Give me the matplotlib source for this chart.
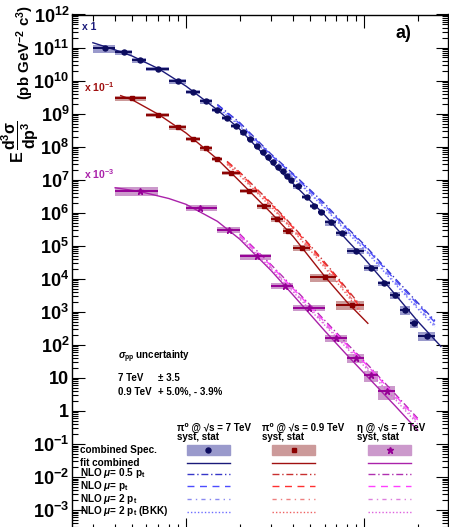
import numpy as np
import matplotlib.pyplot as plt
from matplotlib.patches import Rectangle
from matplotlib.lines import Line2D
from matplotlib.ticker import LogLocator, FuncFormatter, NullFormatter, FixedLocator

plt.rcParams['font.family'] = ['Liberation Sans', 'DejaVu Sans']
plt.rcParams['font.weight'] = 'bold'
plt.rcParams['mathtext.fontset'] = 'custom'
plt.rcParams['mathtext.rm'] = 'Liberation Sans:bold'
plt.rcParams['mathtext.bf'] = 'Liberation Sans:bold'
plt.rcParams['mathtext.it'] = 'Liberation Sans:bold:italic'

# ---- pi0 @ 7 TeV (x1) ----
pi7_lo = [0.3, 0.4, 0.5, 0.6, 0.8, 1.0, 1.2, 1.4, 1.6, 1.8, 2.0, 2.2, 2.4, 2.6, 2.8, 3.0, 3.2,
          3.4, 3.6, 3.8, 4.0, 4.5, 5.0, 5.5, 6.0, 7.0, 8.0, 10, 12, 14, 16, 18, 20]
pi7_hi = [0.4, 0.5, 0.6, 0.8, 1.0, 1.2, 1.4, 1.6, 1.8, 2.0, 2.2, 2.4, 2.6, 2.8, 3.0, 3.2, 3.4,
          3.6, 3.8, 4.0, 4.5, 5.0, 5.5, 6.0, 7.0, 8.0, 10, 12, 14, 16, 18, 20, 25]
pi7_pt = [0.35, 0.45, 0.55, 0.7, 0.9, 1.1, 1.3, 1.5, 1.7, 1.9, 2.1, 2.3, 2.5, 2.7, 2.9, 3.1, 3.3,
          3.5, 3.7, 3.9, 4.25, 4.75, 5.25, 5.75, 6.5, 7.5, 9, 11, 13, 15, 17, 19, 22.5]
pi7_y = [9.4e10, 7.2e10, 4.1e10, 2.26e10, 9.5e9, 4.6e9, 2.36e9, 1.3e9, 7.4e8, 4.3e8, 2.7e8,
         1.7e8, 1.07e8, 7.0e7, 4.8e7, 3.4e7, 2.5e7, 1.79e7, 1.32e7, 9.5e6, 6.3e6, 3.0e6, 1.63e6,
         1.05e6, 5.1e5, 2.4e5, 7.0e4, 2.2e4, 7.4e3, 3.3e3, 1.15e3, 4.7e2, 1.9e2]
pi7_sys = [0.25, 0.2, 0.15, 0.15, 0.15, 0.15, 0.15, 0.15, 0.15, 0.15, 0.15, 0.15, 0.15, 0.15,
           0.15, 0.15, 0.15, 0.15, 0.15, 0.15, 0.15, 0.15, 0.15, 0.15, 0.2, 0.2, 0.2, 0.2, 0.2,
           0.25, 0.3, 0.3, 0.3]
pi7_fit_x = [0.3, 0.4, 0.5, 0.7, 1.0, 1.5, 2.0, 3.0, 4.0, 6.0, 8.0, 10, 15, 20, 27]
pi7_fit_y = [1.4e11, 8.5e10, 5.5e10, 2.3e10, 6.8e9, 1.3e9, 3.4e8, 3.4e7, 7.6e6, 8.6e5,
             1.5e5, 4.2e4, 3.3e3, 5.2e2, 9.0e1]
pi7_nlo_x = [1.5, 2, 3, 4, 6, 8, 10, 15, 20, 25]
pi7_nlo_05 = [1.9e9, 5.4e8, 6.0e7, 1.5e7, 1.9e6, 3.6e5, 1.1e5, 1.0e4, 1.9e3, 5.4e2]
pi7_nlo_1 = [1.8e9, 5.0e8, 5.6e7, 1.4e7, 1.7e6, 3.3e5, 1.0e5, 9.0e3, 1.7e3, 4.8e2]
pi7_nlo_2 = [1.6e9, 4.6e8, 5.0e7, 1.25e7, 1.5e6, 2.9e5, 8.6e4, 7.6e3, 1.4e3, 4.0e2]
pi7_nlo_bkk = [1.5e9, 4.3e8, 4.7e7, 1.15e7, 1.4e6, 2.6e5, 7.8e4, 6.8e3, 1.25e3, 3.5e2]

# ---- pi0 @ 0.9 TeV (x1e-1) ----
pi09_lo = [0.4, 0.6, 0.8, 1.0, 1.2, 1.4, 1.6, 2.0, 2.5, 3.0, 3.5, 4.0, 5.0, 7.0]
pi09_hi = [0.6, 0.8, 1.0, 1.2, 1.4, 1.6, 2.0, 2.5, 3.0, 3.5, 4.0, 5.0, 7.0, 10.0]
pi09_pt = [0.5, 0.7, 0.9, 1.1, 1.3, 1.5, 1.8, 2.25, 2.75, 3.25, 3.75, 4.5, 6.0, 8.5]
pi09_y = [2.9e9, 9.1e8, 3.85e8, 1.71e8, 8.9e7, 4.2e7, 1.6e7, 4.7e6, 1.6e6, 6.5e5, 2.9e5,
          8.5e4, 1.1e4, 1.6e3]
pi09_sys = [0.15, 0.15, 0.15, 0.15, 0.15, 0.15, 0.15, 0.15, 0.18, 0.2, 0.2, 0.2, 0.25, 0.3]
pi09_fit_x = [0.43, 0.5, 0.7, 1.0, 1.5, 2.0, 3.0, 4.0, 6.0, 8.0, 10.5]
pi09_fit_y = [3.5e9, 2.6e9, 9.5e8, 2.6e8, 4.2e7, 9.0e6, 1.0e6, 1.9e5, 1.2e4, 2.0e3, 4.5e2]
pi09_nlo_x = [1.7, 2, 3, 4, 5, 6, 7, 8, 9.5]
pi09_nlo_05 = [3.6e7, 1.7e7, 2.0e6, 3.8e5, 1.0e5, 3.2e4, 1.2e4, 5.0e3, 1.6e3]
pi09_nlo_1 = [3.4e7, 1.6e7, 1.85e6, 3.5e5, 9.2e4, 2.9e4, 1.1e4, 4.5e3, 1.4e3]
pi09_nlo_2 = [3.1e7, 1.45e7, 1.65e6, 3.1e5, 8.0e4, 2.5e4, 9.4e3, 3.8e3, 1.2e3]
pi09_nlo_bkk = [2.9e7, 1.35e7, 1.5e6, 2.8e5, 7.2e4, 2.2e4, 8.2e3, 3.3e3, 1.0e3]

# ---- eta @ 7 TeV (x1e-3) ----
eta_lo = [0.4, 1.0, 1.5, 2.0, 3.0, 4.0, 6.0, 8.0, 10, 12]
eta_hi = [0.7, 1.5, 2.0, 3.0, 4.0, 6.0, 8.0, 10, 12, 15]
eta_pt = [0.55, 1.2, 1.75, 2.5, 3.6, 4.9, 7.0, 9.0, 11, 13.5]
eta_y = [4.6e6, 1.4e6, 3.0e5, 4.8e4, 6.2e3, 1.3e3, 1.6e2, 4.0e1, 1.2e1, 4.0]
eta_sys = [0.3, 0.2, 0.2, 0.2, 0.2, 0.2, 0.25, 0.3, 0.35, 0.45]
eta_fit_x = [0.4, 0.55, 0.8, 1.0, 1.5, 2.0, 3.0, 4.0, 6.0, 8.0, 10, 15, 20]
eta_fit_y = [5.7e6, 4.4e6, 2.7e6, 1.8e6, 5.5e5, 1.6e5, 1.8e4, 3.2e3, 2.7e2, 5.0e1, 1.4e1, 1.4, 2.6e-1]
eta_nlo_x = [2, 3, 4, 6, 8, 10, 15, 20]
eta_nlo_05 = [2.3e5, 2.7e4, 5.5e3, 5.6e2, 1.1e2, 3.3e1, 3.2, 6.0e-1]
eta_nlo_1 = [2.1e5, 2.5e4, 5.0e3, 5.0e2, 1.0e2, 3.0e1, 2.9, 5.4e-1]
eta_nlo_2 = [1.9e5, 2.2e4, 4.4e3, 4.4e2, 8.8e1, 2.6e1, 2.5, 4.6e-1]
eta_nlo_bkk = [1.8e5, 2.0e4, 4.0e3, 4.0e2, 8.0e1, 2.3e1, 2.2, 4.0e-1]

y_decades = list(range(-3, 13))

series = [
    dict(lo=pi7_lo, hi=pi7_hi, pt=pi7_pt, y=pi7_y, sys=pi7_sys, fx=pi7_fit_x, fy=pi7_fit_y,
         nx=pi7_nlo_x, nlo=[pi7_nlo_05, pi7_nlo_1, pi7_nlo_2, pi7_nlo_bkk],
         mc='#0c0c5e', lc='#1a1a7a', box='#9a9acc', marker='o', ms=3.6,
         nc=['#3636c8', '#4c4cff', '#8a8af0', '#6c6cff']),
    dict(lo=pi09_lo, hi=pi09_hi, pt=pi09_pt, y=pi09_y, sys=pi09_sys, fx=pi09_fit_x, fy=pi09_fit_y,
         nx=pi09_nlo_x, nlo=[pi09_nlo_05, pi09_nlo_1, pi09_nlo_2, pi09_nlo_bkk],
         mc='#8c0000', lc='#a01010', box='#cc9a9a', marker='s', ms=3.4,
         nc=['#c83030', '#ff3030', '#ee8080', '#ee6060']),
    dict(lo=eta_lo, hi=eta_hi, pt=eta_pt, y=eta_y, sys=eta_sys, fx=eta_fit_x, fy=eta_fit_y,
         nx=eta_nlo_x, nlo=[eta_nlo_05, eta_nlo_1, eta_nlo_2, eta_nlo_bkk],
         mc='#960096', lc='#aa22aa', box='#cc99cc', marker='*', ms=4.5,
         nc=['#b030b0', '#ff40ff', '#dd80dd', '#dd60dd']),
]
nlo_styles = [(0, (5, 2, 1, 2)), (0, (5, 4)), (0, (3, 3, 1, 3)), (0, (1, 1.5))]

fig = plt.figure(figsize=(4.49, 5.27), dpi=100)
ax = fig.add_axes([72 / 449, -3 / 527, 376 / 449, 515.5 / 527])
ax.set_xscale('log')
ax.set_yscale('log')
ax.set_xlim(0.229, 29.6)
ax.set_ylim(2.5e-4, 1e12)

for s in series:
    lo = np.array(s['lo']); hi = np.array(s['hi']); y = np.array(s['y']); sy = np.array(s['sys'])
    ax.bar(lo, y * 2 * sy, width=hi - lo, bottom=y * (1 - sy), align='edge',
           color=s['box'], edgecolor='none', zorder=2)
    ax.plot(s['fx'], s['fy'], color=s['lc'], lw=1.0, zorder=3)
    for vals, ls, c in zip(s['nlo'], nlo_styles, s['nc']):
        ax.plot(s['nx'], vals, color=c, lw=1.0, ls=ls, zorder=3)
    pt = np.array(s['pt'])
    ax.errorbar(pt, y, xerr=[pt - lo, hi - pt], yerr=y * 0.03, fmt=s['marker'], color=s['mc'],
                ms=s['ms'], lw=1.4, capsize=0, zorder=4)

# only decades inside the view get a label
ax.yaxis.set_major_locator(FixedLocator([10.0 ** e for e in y_decades]))
ax.yaxis.set_minor_locator(LogLocator(base=10, subs=np.arange(2, 10), numticks=30))
ax.xaxis.set_minor_locator(LogLocator(base=10, subs=np.arange(2, 10), numticks=30))
ax.xaxis.set_minor_formatter(NullFormatter())


def ylab(v, pos):
    e = int(round(np.log10(v)))
    if e == 0:
        return '1'
    if e == 1:
        return '10'
    return r'$\mathbf{10^{%d}}$' % e


ax.yaxis.set_major_formatter(FuncFormatter(ylab))
ax.yaxis.set_minor_formatter(NullFormatter())
ax.tick_params(which='both', direction='in', top=True, right=True, width=0.8,
               labelbottom=False, labelsize=13, pad=2)
ax.tick_params(which='major', length=9)
ax.tick_params(which='minor', length=4.5)
for sp in ax.spines.values():
    sp.set_linewidth(1.0)

# y title in two pieces: the big fraction sits lower, the units above it
fig.text(20 / 449, 1 - 163 / 527, r'$\mathbf{E\,\dfrac{d^3\sigma}{dp^3}}$',
         rotation=90, ha='center', va='bottom', fontsize=11.5, fontweight='bold')
fig.text(25 / 449, 1 - 100 / 527, r'(pb GeV$^{-2}$ c$^3$)',
         rotation=90, ha='center', va='bottom', fontsize=10.8, fontweight='bold')

# in-plot labels (pixel positions converted to figure fraction)
def ft(px, py, txt, **kw):
    fig.text(px / 449, 1 - py / 527, txt, **kw)

ft(82, 27, 'x 1', color='#1a1a7a', fontsize=7.5, va='center')
ft(84, 87, r'x 10$^{-1}$', color='#a01010', fontsize=7.5, va='center')
ft(84, 174, r'x 10$^{-3}$', color='#aa22aa', fontsize=7.5, va='center')
ft(395, 33, 'a)', fontsize=13, va='center')

ft(118, 357, r'$\sigma_{\rm pp}$ uncertainty', fontsize=7, va='center')
ft(118, 378, '7 TeV', fontsize=7, va='center')
ft(158, 378, '\u00b1 3.5', fontsize=7, va='center')
ft(118, 392, '0.9 TeV', fontsize=7, va='center')
ft(158, 392, '+ 5.0%, - 3.9%', fontsize=7, va='center')

# legend table
heads = [(177, '\u03c0\u2070 @ \u221as = 7 TeV'), (262, '\u03c0\u2070 @ \u221as = 0.9 TeV'),
         (357, '\u03b7 @ \u221as = 7 TeV')]
for px, h in heads:
    ft(px, 428, h, fontsize=7, va='center')
    ft(px, 437.5, 'syst, stat', fontsize=7, va='center')

rows = ['combined Spec.', 'fit combined', r'NLO $\mu$= 0.5 p$_{\rm t}$', r'NLO $\mu$= p$_{\rm t}$',
        r'NLO $\mu$= 2 p$_{\rm t}$', r'NLO $\mu$= 2 p$_{\rm t}$ (BKK)']
row_y = [450, 463, 473.5, 486, 498.5, 511.5]
for r, py in zip(rows, row_y):
    ft(80, py, r, fontsize=7.2, va='center')

col_x = [187, 272, 368]
for s, cx in zip(series, col_x):
    x0 = cx / 449; w = 43 / 449
    fig.patches.append(Rectangle((x0, 1 - 455 / 527), w, 10 / 527, transform=fig.transFigure,
                                 color=s['box'], zorder=1))
    fig.lines.append(Line2D([x0 + w / 2], [1 - 449.5 / 527], marker=s['marker'], color=s['mc'],
                            ms=s['ms'], transform=fig.transFigure))
    fig.lines.append(Line2D([x0, x0 + w], [1 - 463 / 527] * 2, color=s['lc'], lw=1.0,
                            transform=fig.transFigure))
    for py, ls, c in zip(row_y[2:], nlo_styles, s['nc']):
        fig.lines.append(Line2D([x0, x0 + w], [1 - py / 527] * 2, color=c, lw=1.0, ls=ls,
                                transform=fig.transFigure))

fig.savefig('out.png', dpi=100)
